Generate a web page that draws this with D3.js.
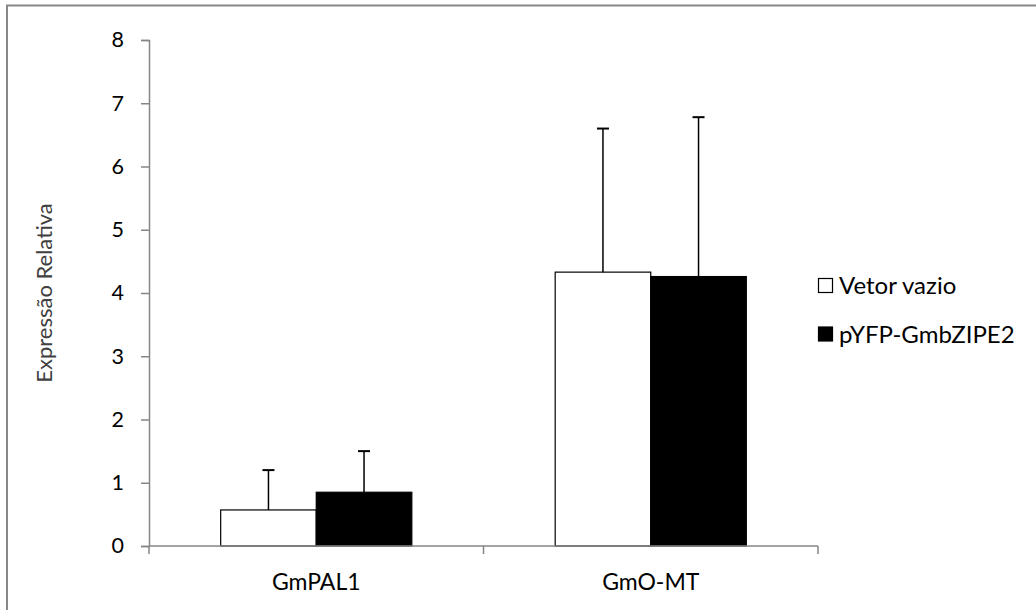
<!DOCTYPE html>
<html><head><meta charset="utf-8">
<script src="https://cdn.jsdelivr.net/npm/d3@7"></script>
<style>
html,body{margin:0;padding:0;background:#fff;}
svg{display:block;}
text{font-family:Lato,"Open Sans",sans-serif;}
</style></head>
<body>
<script>
const categories = ["GmPAL1", "GmO-MT"];
const seriesNames = ["Vetor vazio", "pYFP-GmbZIPE2"];
const seriesVetor = [0.57, 4.33];
const seriesPYFP = [0.85, 4.26];
const errorVetor = [0.63, 2.27];
const errorPYFP = [0.65, 2.52];
const yTicks = [0, 1, 2, 3, 4, 5, 6, 7, 8];
const yTitle = "Expressão Relativa";

(function () {
const W = 1036, H = 610;
const svg = d3.select("body").append("svg").attr("width", W).attr("height", H);

// outer frame
svg.append("path").attr("d", `M7,${H} L7,5.5 L${W},5.5`)
  .attr("fill", "none").attr("stroke", "#878787").attr("stroke-width", 2);

const pLeft = 149, pRight = 818, pTop = 40, pBottom = 546;
const x0 = d3.scaleBand().domain(categories).range([pLeft, pRight]).paddingInner(0).paddingOuter(0);
const bw = x0.bandwidth() / 3.5;
const y = d3.scaleLinear().domain([0, 8]).range([pBottom, pTop]);

const data = categories.map((c, i) => ({
  c,
  vals: [
    {s: 0, v: seriesVetor[i], e: errorVetor[i]},
    {s: 1, v: seriesPYFP[i], e: errorPYFP[i]}
  ]
}));

const axisColor = "#868686";
// y axis
const yAxis = svg.append("g").attr("transform", `translate(${pLeft},0)`)
  .call(d3.axisLeft(y).tickValues(yTicks).tickSize(8).tickPadding(17).tickFormat(d3.format("d")));
yAxis.selectAll("path,line").attr("stroke", axisColor).attr("stroke-width", 1.5);
yAxis.selectAll("text").attr("font-size", 21.5).attr("fill", "#000");

// bars
const g = svg.append("g");
data.forEach(d => {
  const cx = x0(d.c) + x0.bandwidth() / 2;
  d.vals.forEach(b => {
    const bx = cx - bw + b.s * bw;
    g.append("rect").attr("x", bx).attr("y", y(b.v)).attr("width", bw).attr("height", y(0) - y(b.v))
      .attr("fill", b.s === 0 ? "#fff" : "#000").attr("stroke", "#000").attr("stroke-width", 1.2);
    const ex = bx + bw / 2;
    g.append("line").attr("x1", ex).attr("x2", ex).attr("y1", y(b.v)).attr("y2", y(b.v + b.e))
      .attr("stroke", "#000").attr("stroke-width", 1.5);
    g.append("line").attr("x1", ex - 6).attr("x2", ex + 6).attr("y1", y(b.v + b.e)).attr("y2", y(b.v + b.e))
      .attr("stroke", "#000").attr("stroke-width", 2);
  });
});

// x axis
const xAxis = svg.append("g").attr("transform", `translate(0,${pBottom})`);
xAxis.append("line").attr("x1", pLeft).attr("x2", pRight).attr("stroke", axisColor).attr("stroke-width", 1.5);
[pLeft, pLeft + x0.bandwidth(), pRight].forEach(t => {
  xAxis.append("line").attr("x1", t).attr("x2", t).attr("y1", 0).attr("y2", 8)
    .attr("stroke", axisColor).attr("stroke-width", 1.5);
});
categories.forEach(c => {
  xAxis.append("text").attr("x", x0(c) + x0.bandwidth() / 2).attr("y", 44)
    .attr("text-anchor", "middle").attr("font-size", 23).attr("fill", "#000").text(c);
});

// y title
svg.append("text").attr("transform", `translate(52,${(pTop + pBottom) / 2}) rotate(-90)`)
  .attr("text-anchor", "middle").attr("font-size", 22).attr("fill", "#404040").text(yTitle);

// legend
const leg = svg.append("g");
seriesNames.forEach((s, i) => {
  const ly = 285.5 + i * 48.5;
  leg.append("rect").attr("x", 818.5).attr("y", ly - 7).attr("width", 14).attr("height", 14)
    .attr("fill", i === 0 ? "#fff" : "#000").attr("stroke", "#000").attr("stroke-width", 1.2);
  leg.append("text").attr("x", 839).attr("y", ly).attr("dy", "0.36em")
    .attr("font-size", 24).attr("fill", "#000").text(s);
});
})();
</script>
</body></html>
